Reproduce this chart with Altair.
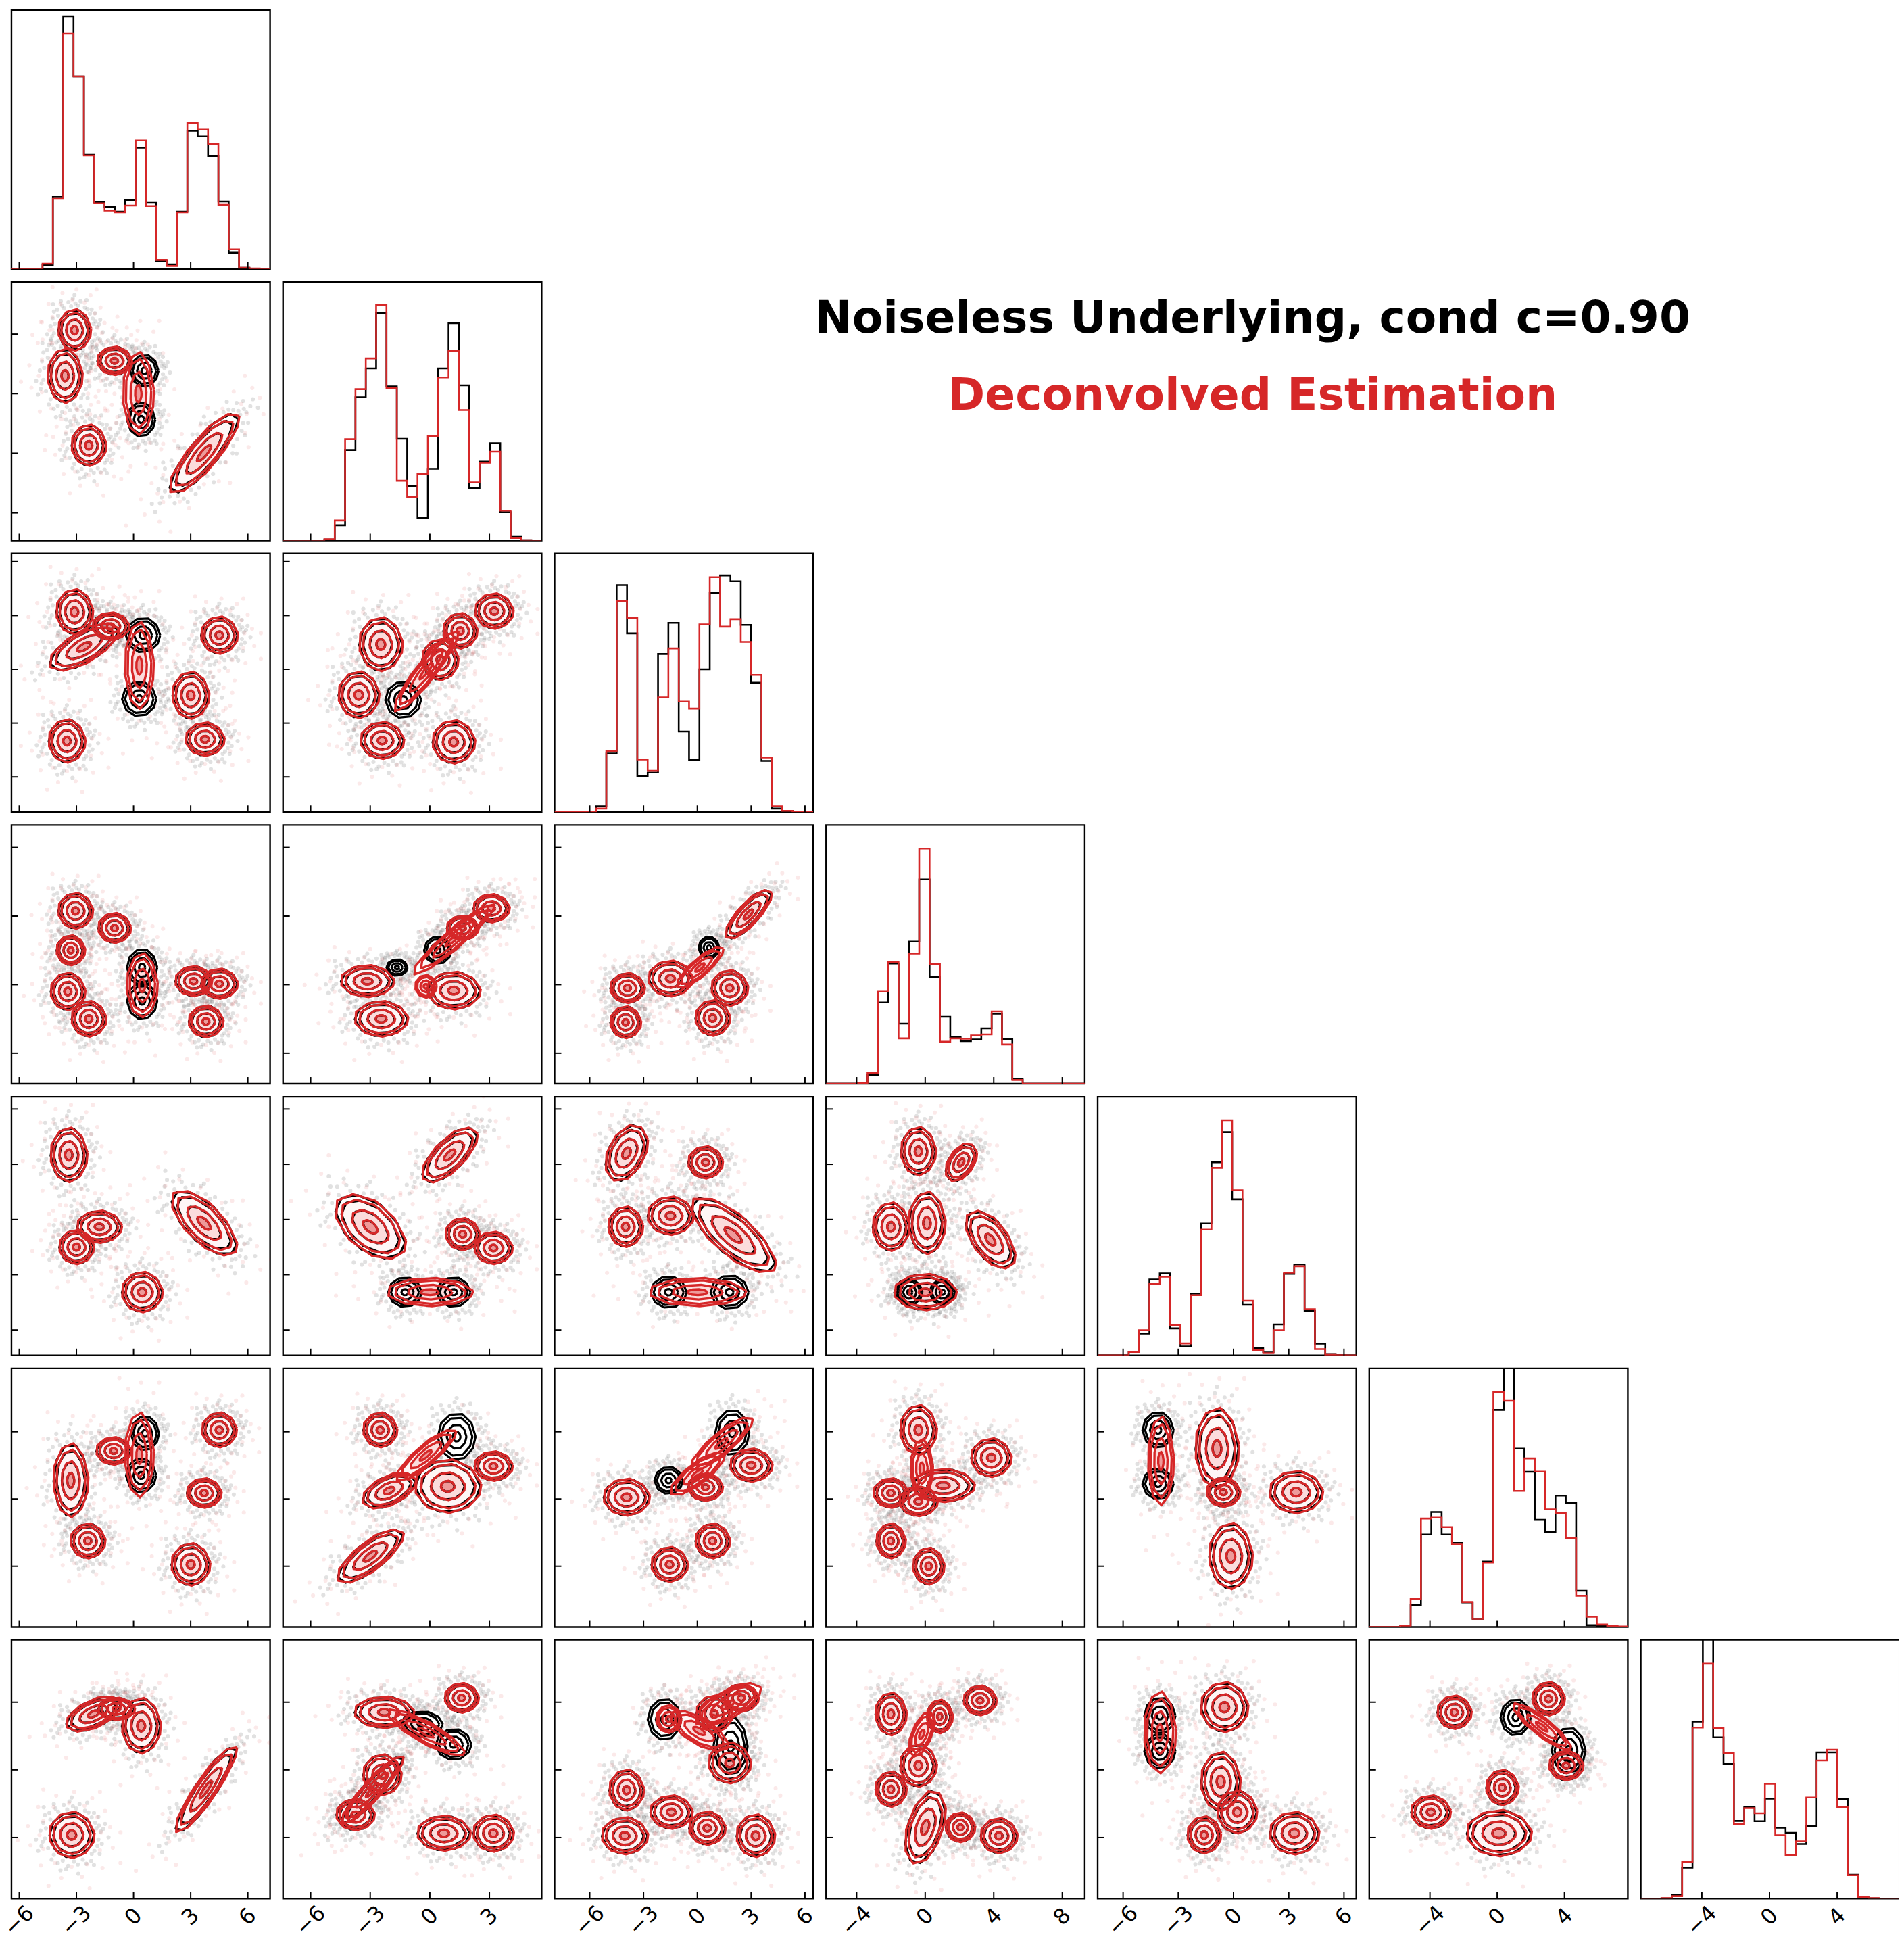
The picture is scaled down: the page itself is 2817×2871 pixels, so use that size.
import altair as alt
import pandas as pd

RED = "#d62728"
# Axis range and tick values of each of the seven variables
DOMAINS = [(-6.41, 7.17), (-7.39, 5.63), (-7.96, 6.46), (-5.78, 9.31), (-7.38, 6.67), (-7.61, 7.77), (-7.61, 7.68)]
TICKS = [[-6, -3, 0, 3, 6], [-6, -3, 0, 3], [-6, -3, 0, 3, 6], [-4, 0, 4, 8], [-6, -3, 0, 3, 6], [-4, 0, 4], [-4, 0, 4]]
TITLES = ["Noiseless Underlying, cond c=0.90", "Deconvolved Estimation"]

# 25-bin histogram heights
HIST_B = [
 [0,0,0,17,320,1125,857,508,297,277,255,307,540,294,35,20,255,615,590,503,300,72,5,1,1],
 [0,0,0,0,4,68,403,638,766,1014,686,453,241,101,319,766,968,691,233,351,433,126,16,1,0],
 [0,0,0,2,26,261,1011,796,161,176,704,843,359,233,636,976,1054,1028,834,576,228,16,6,3,2],
 [0,0,0,1,40,362,535,268,633,910,475,298,208,190,197,247,312,199,20,0,0,0,0,0,0],
 [0,0,0,15,97,338,365,120,40,275,587,860,994,695,225,32,13,138,363,405,197,52,3,1,0],
 [0,0,0,4,99,412,512,412,374,109,36,291,967,1200,794,691,477,424,585,552,161,8,4,2,1],
 [0,0,1,16,138,788,1250,718,600,346,408,345,445,316,293,243,323,651,651,443,106,8,1,0,0],
]
HIST_R = [
 [0,0,0,23,312,1047,857,505,292,260,252,282,572,280,40,13,252,650,620,555,285,87,5,2,1],
 [0,0,0,0,6,89,451,674,811,1048,679,266,193,296,465,726,844,581,259,346,396,133,11,1,0],
 [0,0,0,2,16,271,941,866,234,184,511,729,492,461,836,1046,826,859,758,611,243,26,6,3,2],
 [0,0,0,2,47,410,542,202,580,1047,533,187,202,200,215,220,322,175,17,0,0,0,0,0,0],
 [0,0,0,15,112,318,350,135,53,268,560,835,1047,735,243,23,10,112,368,397,205,28,2,1,0],
 [0,0,0,6,126,483,487,445,367,111,36,287,1046,1007,606,751,692,524,508,396,139,45,11,4,2],
 [0,0,2,11,163,762,1046,760,648,332,403,380,511,282,193,255,450,615,663,408,104,6,2,0,0],
]

# Contour clusters read from the off-diagonal panels, in data units:
# (x, y, half-width, half-height, slope, who)  who: a=both, b=black only, r=red only
P10 = [(-3.1,3.2,.8,.95,0,'a'),(-3.6,.9,.85,1.25,0,'a'),(-1,1.65,.85,.65,0,'a'),(.57,1.15,.7,.75,0,'b'),(.4,-1.3,.7,.8,0,'b'),(.25,0,.75,1.9,0,'r'),(-2.35,-2.6,.85,.95,0,'a'),(3.7,-3,1.7,1,.95,'a')]
P20 = [(-3.1,3.2,.9,1.15,0,'a'),(-2.6,1.25,1.7,.9,.5,'a'),(-1.2,2.4,.9,.7,0,'a'),(.5,1.9,.85,.9,0,'b'),(.3,-1.65,.85,.9,0,'b'),(.3,.2,.7,2.2,0,'r'),(-3.5,-4,.9,1.1,0,'a'),(3,-1.45,.9,1.2,0,'a'),(4.5,1.9,.9,.95,0,'a'),(3.75,-3.9,.95,.85,0,'a')]
P21 = [(-2.47,1.39,1.02,1.37,0,'a'),(-3.58,-1.43,.96,1.19,0,'a'),(-2.4,-3.97,1.02,.94,0,'a'),(1.2,-4.05,1,1.1,0,'a'),(-1.34,-1.7,.85,.95,0,'b'),(.52,.53,.85,1.05,0,'a'),(1.53,2.14,.8,.9,0,'a'),(3.24,3.24,.9,.9,0,'a'),(-.19,-.1,1.5,.8,1.3,'r')]
P30 = [(-3.05,4.3,.85,.95,0,'a'),(-1,3.3,.8,.8,0,'a'),(-3.3,2,.7,.8,0,'a'),(-3.45,-.4,.85,1,0,'a'),(-2.35,-2,.85,.95,0,'a'),(.45,1,.75,1,0,'b'),(.45,-.95,.75,1,0,'b'),(.45,-.05,.75,1.7,0,'r'),(3.15,.2,.9,.8,0,'a'),(4.5,.05,.9,.8,0,'a'),(3.8,-2.15,.85,.85,0,'a')]
P31 = [(-3.15,.2,1.25,.85,0,'a'),(-2.45,-2,1.25,.95,0,'a'),(1.2,-.35,1.25,1,0,'a'),(.4,2,.65,.75,0,'b'),(3.1,4.45,.85,.75,0,'a'),(1.65,3.3,.75,.65,0,'a'),(-.2,-.1,.5,.6,0,'r'),(1.2,2.65,1.9,.65,.95,'r'),(-1.65,1,.5,.45,0,'b')]
P32 = [(-3.9,-.2,.9,.8,0,'a'),(-4,-2.2,.8,.85,0,'a'),(-1.5,.35,1.15,.95,0,'a'),(1.8,-.2,.95,.95,0,'a'),(.85,-1.95,.9,.95,0,'a'),(2.85,4.1,1.2,.8,.9,'a'),(.65,2.15,.55,.6,0,'b'),(.15,1,1.2,.6,.8,'r')]
P40 = [(-3.4,3.5,.9,1.35,0,'a'),(-1.8,-.4,1.1,.8,0,'a'),(-3,-1.5,.85,.85,0,'a'),(.45,-3.95,1,1,0,'a'),(3.7,-.2,1.6,1.2,-.7,'a')]
P41 = [(1,3.5,1.3,1,.75,'a'),(-3,-.4,1.65,1.4,-.5,'a'),(1.65,-.8,.8,.8,0,'a'),(3.2,-1.55,.9,.8,0,'a'),(-1.25,-3.95,.8,.75,0,'b'),(1.2,-3.95,.8,.75,0,'b'),(0,-3.95,2,.7,0,'r')]
P42 = [(-3.95,3.6,1.1,1.3,.5,'a'),(.45,3.1,.9,.8,0,'a'),(-4,-.4,.9,1,0,'a'),(-1.5,.2,1.2,.95,0,'a'),(2,-.85,2.2,1.25,-.65,'a'),(-1.6,-3.95,.95,.8,0,'b'),(1.8,-3.95,1,.85,0,'b'),(0,-3.95,2.5,.7,0,'r')]
P43 = [(-.4,3.7,.95,1.2,0,'a'),(2.1,3.1,.85,.85,.5,'a'),(-2,-.4,1,1.2,0,'a'),(.1,-.2,1,1.55,0,'a'),(3.8,-1.1,1.35,1.2,-.6,'a'),(0,-3.95,1.7,.9,0,'a'),(-.9,-3.95,.7,.65,0,'b'),(1,-3.95,.7,.65,0,'b')]
P50 = [(-3.3,1.1,.85,2,0,'a'),(.6,3.9,.7,.95,0,'b'),(.4,1.4,.75,.95,0,'b'),(.3,2.6,.7,2.3,0,'r'),(-1.05,2.85,.85,.75,0,'a'),(-2.4,-2.5,.85,.95,0,'a'),(4.5,4.1,.85,.95,0,'a'),(3.7,.35,.85,.8,0,'a'),(3,-3.9,.95,1.15,0,'a')]
P51 = [(-2.5,4.1,.8,.95,0,'a'),(1.35,3.7,.9,1.3,0,'b'),(3.2,1.95,.9,.8,0,'a'),(.9,.75,1.55,1.45,0,'a'),(-2.05,.5,1.25,.85,.4,'a'),(-3,-3.4,1.55,.95,.75,'a'),(-.2,2.6,1.4,.7,.9,'r')]
P52 = [(-3.95,.1,1.2,1,0,'a'),(-1.6,1.1,.75,.75,0,'b'),(1.95,3.95,.9,1.25,0,'b'),(3,2,1.1,.9,0,'a'),(.45,.7,.9,.75,0,'a'),(-1.55,-3.9,.95,.95,0,'a'),(.85,-2.5,.9,.95,0,'a'),(1.35,3.3,1.6,.75,.8,'r'),(0,1.5,1.4,.7,.7,'r')]
P53 = [(-.4,4.1,1,1.35,0,'a'),(3.85,2.45,1.1,1.05,0,'a'),(-2,.35,.95,.8,0,'a'),(1.05,.8,1.7,.9,0,'a'),(-.4,-.15,1.05,.8,0,'a'),(-2,-2.5,.8,.95,0,'a'),(.2,-4,.85,1,0,'a'),(-.2,1.8,.6,1.6,0,'r')]
P54 = [(-4.1,4.1,.8,1,0,'b'),(-4.1,.9,.8,.85,0,'b'),(-3.95,2.25,.65,2.4,0,'r'),(-.9,3,1.1,2.2,0,'a'),(-.55,.4,.85,.8,0,'a'),(3.4,.4,1.35,1.15,0,'a'),(-.15,-3.4,1.1,1.8,0,'a')]
P60 = [(-3.25,-3.85,1.1,1.25,0,'a'),(-2.1,3.3,1.35,.8,.4,'a'),(-.9,3.6,.9,.6,0,'a'),(.4,2.6,.95,1.5,0,'a'),(3.8,-1.15,1.5,1,1.45,'a')]
P61 = [(-2.3,3.4,1.4,.85,0,'a'),(-.4,2.7,1,.7,0,'b'),(1.2,1.5,.85,.85,0,'b'),(-.2,2.2,1.8,.65,-.6,'r'),(1.6,4.25,.8,.8,0,'a'),(-2.4,-.3,.9,1.1,0,'a'),(-3.75,-2.65,.9,.85,0,'a'),(-2.9,-1.2,1.45,.75,1.2,'a'),(.7,-3.75,1.25,.95,0,'a'),(3.2,-3.75,.95,1,0,'a')]
P62 = [(-1.83,2.98,.88,1.13,0,'b'),(-1.6,3,.65,.75,0,'r'),(.94,3.3,.94,1,0,'a'),(2.45,4.25,.9,.75,0,'a'),(1.8,.4,1.1,1.1,0,'a'),(1.85,1.4,.9,1.6,0,'b'),(.1,2.3,1.5,.8,-.5,'r'),(1.7,3.85,1.7,.85,.5,'r'),(-3.95,-1.2,.9,1.1,0,'a'),(-4.05,-3.9,1.2,1,0,'a'),(-1.45,-2.5,1.1,.9,0,'a'),(.55,-3.45,.95,.9,0,'a'),(3.25,-3.9,1,1.15,0,'a')]
P63 = [(-2,3.3,.85,1.15,0,'a'),(3.2,4.1,.9,.8,0,'a'),(.85,3.15,.7,.9,0,'a'),(-.4,.25,1,1.15,0,'a'),(-2,-1.15,.85,.95,0,'a'),(0,-3.4,1.1,1.8,.8,'a'),(2.05,-3.4,.8,.8,0,'a'),(4.3,-3.9,1,.95,0,'a'),(-.2,2.1,.7,1,1,'r')]
P64 = [(-4,3.2,.8,1,0,'b'),(-4,1.1,.8,.95,0,'b'),(-4,2.2,.8,2.2,0,'r'),(-.5,3.7,1.2,1.35,0,'a'),(-.7,-.7,1,1.6,0,'a'),(.2,-2.5,1,1.15,0,'a'),(-1.6,-3.85,.85,1,0,'a'),(3.3,-3.75,1.25,1.15,0,'a')]
P65 = [(-2.55,3.4,.95,.9,0,'a'),(-3.95,-2.5,1.1,.9,0,'a'),(.3,-1.05,.9,.95,0,'a'),(.1,-3.75,1.8,1.25,0,'a'),(1.1,3.1,.85,1,0,'b'),(3.05,4.2,.9,.9,0,'a'),(4.25,1.15,.95,1.25,0,'b'),(4.1,.25,.95,.8,0,'a'),(2.65,2.55,1.6,.6,-.7,'r')]
PANELS = {(1,0):P10,(2,0):P20,(2,1):P21,(3,0):P30,(3,1):P31,(3,2):P32,(4,0):P40,(4,1):P41,(4,2):P42,(4,3):P43,
          (5,0):P50,(5,1):P51,(5,2):P52,(5,3):P53,(5,4):P54,(6,0):P60,(6,1):P61,(6,2):P62,(6,3):P63,(6,4):P64,(6,5):P65}

# Coarse outlines of one contour and the faint sample scatter around a cluster
BLACK_OUTLINE = [(1,0),(.78,.6),(.3,.98),(-.35,.95),(-.82,.58),(-1,-.02),(-.75,-.65),(-.25,-.98),(.4,-.92),(.85,-.5)]
RED_OUTLINE = [(1.03,.1),(.7,.72),(.15,1.04),(-.5,.9),(-.95,.4),(-.98,-.25),(-.6,-.82),(.05,-1.03),(.62,-.8),(.98,-.32)]
LEVELS = [1.06, .88, .55, .22]
GRAY_SCATTER = [(1.0,.27),(1.08,-.18),(.95,.5),(.81,.72),(.54,.99),(.18,1.08),(-.18,1.04),(-.54,.95),(-.86,.63),(-1.04,.27),(-1.08,-.14),(-.95,-.54),(-.72,-.81),(-.36,-1.04),(.09,-1.08),(.45,-1),(.81,-.77),(1.04,-.45),
 (1.17,.14),(1.22,-.36),(.9,.9),(.32,1.26),(-.32,1.22),(-.9,.9),(-1.26,.18),(-1.22,-.45),(-.81,-1),(-.14,-1.26),(.59,-1.17),(1.13,-.77),(1.35,.45),(.63,1.31),(-.72,1.26),(-1.44,-.18),(-.45,-1.44),(.9,-1.22),(1.49,-.09),(0,1.53),(-1.13,1.13),(.27,-1.58),
 (1.1,.38),(.68,.92),(.05,1.17),(-.65,1.08),(-1.15,.5),(-1.17,-.27),(-.56,-1.15),(.25,-1.2),(.92,-.65),(1.28,.25),(1.08,.74),(-.09,1.37),(-1.08,.81),(-1.35,-.65),(-.23,-1.4),(.79,-1.06)]
RED_SCATTER = [(1.15,.1),(1.0,.7),(.5,1.15),(-.1,1.25),(-.7,1.1),(-1.1,.55),(-1.25,0),(-1.1,-.55),(-.65,-1.1),(0,-1.25),(.6,-1.15),(1.1,-.6),
 (1.5,.3),(1.3,.95),(.8,1.45),(.1,1.7),(-.6,1.55),(-1.3,1.1),(-1.7,.35),(-1.6,-.4),(-1.2,-1.2),(-.4,-1.7),(.4,-1.65),(1.2,-1.3),(1.6,-.5),(1.9,.1),(1.1,1.7),(-1.1,1.8),(-2.1,-.2),(-.9,-2),(.7,-2.1),(1.9,-1.1)]

W = 384


def ticks_layer(var_x, var_y=None, labelled=False):
    lo, hi = DOMAINS[var_x]
    scx = alt.Scale(domain=[lo, hi], nice=False, zero=False)
    xl = alt.Chart(pd.DataFrame({"v": TICKS[var_x]})).mark_rule(color="black", strokeWidth=2).encode(
        x=alt.X("v:Q", scale=scx, axis=None), y=alt.value(W), y2=alt.value(W - 10))
    out = [xl]
    if var_y is not None:
        ylo, yhi = DOMAINS[var_y]
        out.append(alt.Chart(pd.DataFrame({"v": TICKS[var_y]})).mark_rule(color="black", strokeWidth=2).encode(
            y=alt.Y("v:Q", scale=alt.Scale(domain=[ylo, yhi], nice=False, zero=False), axis=None),
            x=alt.value(0), x2=alt.value(10)))
    if labelled:
        df = pd.DataFrame({"v": TICKS[var_x], "t": [str(v).replace("-", "\u2212") for v in TICKS[var_x]],
                           "py": [W + (33 if v < 0 else 27) for v in TICKS[var_x]]})
        out.append(alt.Chart(df).mark_text(angle=315, fontSize=32, font="DejaVu Sans", color="black", align="center",
                                           baseline="middle").encode(
            x=alt.X("v:Q", scale=scx, axis=None), y=alt.Y("py:Q", scale=None, axis=None), text="t:N"))
    return out


def hist_panel(i):
    lo, hi = DOMAINS[i]
    sx = alt.Scale(domain=[lo, hi], nice=False, zero=False)
    sy = alt.Scale(domain=[0, 1152], nice=False, zero=False)
    layers = []
    for vals, col in ((HIST_B[i], "black"), (HIST_R[i], RED)):
        edges = [round(lo + k * (hi - lo) / 25, 3) for k in range(26)]
        df = pd.DataFrame({"x": edges, "y": list(vals) + [vals[-1]]})
        layers.append(alt.Chart(df).mark_line(color=col, strokeWidth=2.6, interpolate="step-after", clip=True).encode(
            x=alt.X("x:Q", scale=sx, axis=None), y=alt.Y("y:Q", scale=sy, axis=None)))
    return alt.layer(*layers, *ticks_layer(i, None, i == 6)).properties(
        width=W, height=W, view=alt.ViewBackground(stroke="black", strokeWidth=2.4))


def place(b, u, v, pad=0.0):
    x, y, rx, ry, k, _ = b
    return x + (rx + pad) * u, y + (ry + pad) * v + k * rx * u


def contour_panel(r, c):
    blobs = PANELS[(r, c)]
    sx = alt.Scale(domain=list(DOMAINS[c]), nice=False, zero=False)
    sy = alt.Scale(domain=list(DOMAINS[r]), nice=False, zero=False)
    gray, pink, rings = [], [], []
    rid = 0
    for b in blobs:
        if b[5] in "ab":
            gray += [dict(zip("xy", place(b, u, v, .2))) for u, v in GRAY_SCATTER]
        if b[5] in "ar":
            pink += [dict(zip("xy", place(b, u, v, .25))) for u, v in RED_SCATTER]
        for who, outline in (("b", BLACK_OUTLINE), ("r", RED_OUTLINE)):
            if b[5] not in ("a", who):
                continue
            for lv, s in enumerate(LEVELS):
                rid += 1
                for i, (u, v) in enumerate(outline + outline[:1]):
                    px, py = place(b, u * s, v * s)
                    rings.append({"x": round(px, 3), "y": round(py, 3), "i": i, "id": rid, "who": who, "lv": lv})
    rings = pd.DataFrame(rings)
    X = alt.X("x:Q", scale=sx, axis=None)
    Y = alt.Y("y:Q", scale=sy, axis=None)
    layers = [
        alt.Chart(pd.DataFrame(gray)).mark_circle(color="#444444", opacity=.16, size=38, clip=True).encode(x=X, y=Y),
        alt.Chart(pd.DataFrame(pink)).mark_circle(color=RED, opacity=.1, size=38, clip=True).encode(x=X, y=Y),
    ]
    fills = [(rings[rings.lv == 0], "#ffffff"), (rings[(rings.who == "r") & (rings.lv == 1)], "#fef6f6"),
             (rings[(rings.who == "r") & (rings.lv == 2)], "#fbdcdc"), (rings[(rings.who == "r") & (rings.lv == 3)], "#ee9a9a")]
    for d, col in fills:
        layers.append(alt.Chart(d).mark_line(fill=col, stroke="transparent", strokeWidth=0).encode(
            x=X, y=Y, order="i:Q", detail="id:N"))
    for who, col, sw in (("b", "black", 3.2), ("r", RED, 3.4)):
        d = rings[rings.who == who]
        if len(d):
            layers.append(alt.Chart(d).mark_line(color=col, strokeWidth=sw, strokeJoin="round").encode(
                x=X, y=Y, order="i:Q", detail="id:N"))
    return alt.layer(*layers, *ticks_layer(c, r, r == 6)).properties(
        width=W, height=W, view=alt.ViewBackground(stroke="black", strokeWidth=2.4))


def empty_cell():
    return alt.Chart(pd.DataFrame({"t": [""]})).mark_text().encode(
        text="t:N", x=alt.value(100), y=alt.value(100)).properties(width=W, height=W)


def title_cell():
    df = pd.DataFrame({"t": TITLES, "c": ["black", RED], "py": [55, 170]})
    return alt.Chart(df).mark_text(font="DejaVu Sans", fontWeight="bold", fontSize=66.5, align="center", baseline="middle").encode(
        text="t:N", x=alt.value(230), y=alt.Y("py:Q", scale=None, axis=None),
        color=alt.Color("c:N", scale=None)).properties(width=W, height=W)


cells = []
for r in range(7):
    for c in range(7):
        if c == r:
            cells.append(hist_panel(r))
        elif c < r:
            cells.append(contour_panel(r, c))
        elif (r, c) == (1, 4):
            cells.append(title_cell())
        else:
            cells.append(empty_cell())

chart = alt.concat(*cells, columns=7, spacing=19.2, bounds="flush").properties(
    padding={"left": -9, "top": 0, "right": -3, "bottom": -18}
).configure_view(stroke=None)

chart.save("out.html", embed_options={"renderer": "svg", "actions": False})
